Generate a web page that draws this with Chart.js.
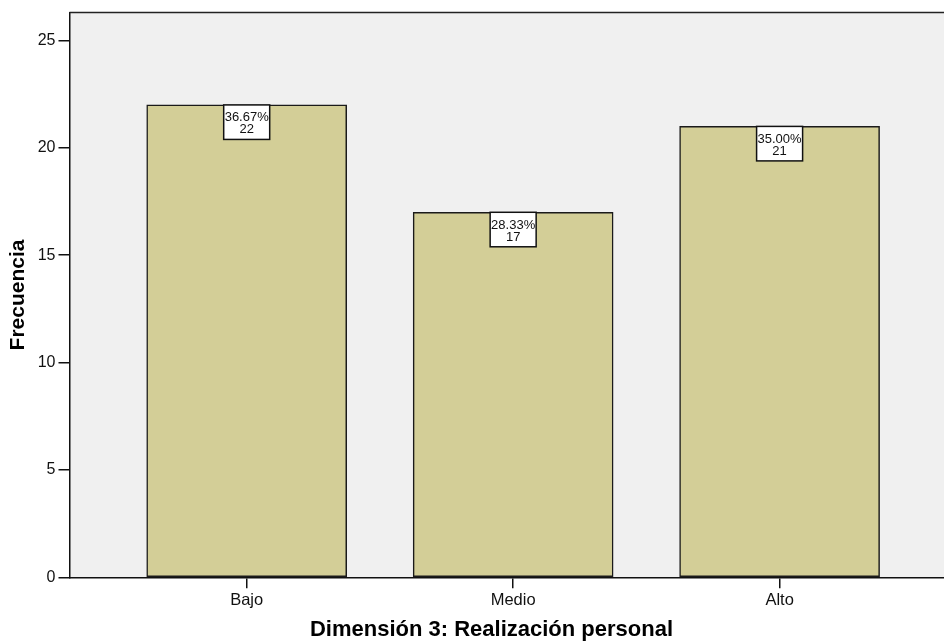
<!DOCTYPE html>
<html>
<head>
<meta charset="utf-8">
<script src="https://cdn.jsdelivr.net/npm/chart.js@4.4.1/dist/chart.umd.min.js"></script>
<style>
  html, body { margin: 0; padding: 0; background: #ffffff; }
  #wrap { width: 944px; height: 643px; }
</style>
</head>
<body>
<div id="wrap"><canvas id="c" width="944" height="643"></canvas></div>
<script>
// Frequency of "Dimensión 3: Realización personal" levels
const categories = ['Bajo', 'Medio', 'Alto'];
const counts = [22, 17, 21];
const yTicks = [0, 5, 10, 15, 20, 25];
const xTitle = 'Dimensión 3: Realización personal';
const yTitle = 'Frecuencia';

const total = counts.reduce((a, b) => a + b, 0);
const percents = counts.map(v => (v / total * 100).toFixed(2) + '%');

const FONT = 'Arial, "Liberation Sans", sans-serif';

// plot background, top frame line and axis titles
const frame = {
  id: 'frame',
  beforeDraw(chart) {
    const { ctx, chartArea: a } = chart;
    ctx.save();
    ctx.fillStyle = '#f0f0f0';
    ctx.fillRect(a.left, a.top, a.right - a.left, a.bottom - a.top);
    ctx.restore();
  },
  afterDraw(chart) {
    const { ctx, chartArea: a } = chart;
    ctx.save();
    ctx.strokeStyle = '#222';
    ctx.lineWidth = 1.5;
    ctx.beginPath();
    ctx.moveTo(a.left, a.top);
    ctx.lineTo(a.right, a.top);
    ctx.stroke();

    ctx.fillStyle = '#000';
    ctx.font = 'bold 22px ' + FONT;
    ctx.textAlign = 'center';
    ctx.textBaseline = 'middle';
    ctx.fillText(xTitle, a.left + 422, 630);

    ctx.translate(18, (a.top + a.bottom) / 2);
    ctx.rotate(-Math.PI / 2);
    ctx.font = 'bold 21px ' + FONT;
    ctx.fillText(yTitle, 0, 0);
    ctx.restore();
  }
};

// boxed percentage / count labels at the top of each bar
const boxLabels = {
  id: 'boxLabels',
  afterDatasetsDraw(chart) {
    const { ctx } = chart;
    const meta = chart.getDatasetMeta(0);
    ctx.save();
    meta.data.forEach((bar, i) => {
      const w = 46, h = 34.5;
      const x = bar.x - w / 2, y = bar.y;
      ctx.fillStyle = '#ffffff';
      ctx.fillRect(x, y, w, h);
      ctx.strokeStyle = '#111';
      ctx.lineWidth = 1.5;
      ctx.strokeRect(x, y, w, h);
      ctx.fillStyle = '#111';
      ctx.font = '13px ' + FONT;
      ctx.textAlign = 'center';
      ctx.textBaseline = 'alphabetic';
      ctx.fillText(percents[i], bar.x, y + 16.5);
      ctx.fillText(String(counts[i]), bar.x, y + 28.5);
    });
    ctx.restore();
  }
};

new Chart(document.getElementById('c'), {
  type: 'bar',
  data: {
    datasets: [{
      data: counts.map((v, i) => ({ x: i, y: v })),
      backgroundColor: '#d3ce97',
      borderColor: '#1a1a1a',
      borderWidth: 1.5,
      borderSkipped: false,
      barThickness: 200
    }]
  },
  options: {
    responsive: false,
    animation: false,
    layout: { padding: { top: 11.7, left: 0, right: 0, bottom: 0 } },
    plugins: { legend: { display: false }, tooltip: { enabled: false } },
    scales: {
      x: {
        type: 'linear',
        offset: false,
        min: -0.665,
        max: 2.617,
        afterBuildTicks(scale) { scale.ticks = categories.map((c, i) => ({ value: i })); },
        afterFit(scale) { scale.height = 65.7; },
        ticks: {
          callback: v => categories[v],
          color: '#111',
          font: { family: FONT, size: 16.5 },
          padding: 2,
          maxRotation: 0,
          autoSkip: false
        },
        grid: { offset: false, drawOnChartArea: false, drawTicks: true, tickLength: 11, color: '#111', lineWidth: 1.5 },
        border: { display: true, color: '#111', width: 1.5 }
      },
      y: {
        min: 0,
        max: 26.3,
        afterBuildTicks(scale) { scale.ticks = yTicks.map(v => ({ value: v })); },
        afterFit(scale) { scale.width = 69.5; },
        ticks: {
          color: '#111',
          font: { family: FONT, size: 16 },
          padding: 3
        },
        grid: { drawOnChartArea: false, drawTicks: true, tickLength: 11, color: '#111', lineWidth: 1.5 },
        border: { display: true, color: '#111', width: 1.5 }
      }
    }
  },
  plugins: [frame, boxLabels]
});
</script>
</body>
</html>
